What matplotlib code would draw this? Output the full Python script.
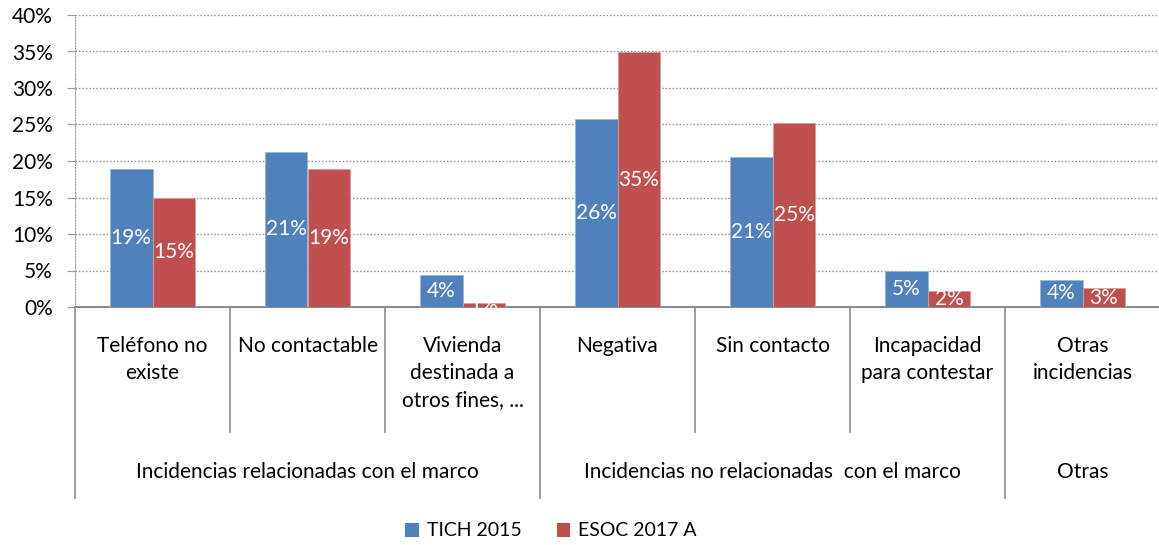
import matplotlib
matplotlib.use("Agg")
import matplotlib.pyplot as plt
from matplotlib.patches import Patch
import matplotlib.transforms as mtransforms

categories = ["Teléfono no\nexiste", "No contactable", "Vivienda\ndestinada a\notros fines, ...",
              "Negativa", "Sin contacto", "Incapacidad\npara contestar", "Otras\nincidencias"]
groups = ["Incidencias relacionadas con el marco", "Incidencias no relacionadas  con el marco", "Otras"]
group_sizes = [3, 3, 1]
series_names = ["TICH 2015", "ESOC 2017 A"]
tich_2015 = [18.9, 21.3, 4.4, 25.8, 20.6, 4.9, 3.7]
esoc_2017 = [15.0, 18.9, 0.6, 34.9, 25.2, 2.2, 2.6]
yticks = [0, 5, 10, 15, 20, 25, 30, 35, 40]

BLUE = "#4F81BD"
RED = "#C0504D"
GRAY = "#8C8C8C"
FONT = "Lato"
FS = 15

plt.rcParams['font.family'] = [FONT, 'DejaVu Sans']

fig = plt.figure(figsize=(11.59, 5.45), dpi=100)
ax = fig.add_axes([75/1159, 1-307/545, (1160-75)/1159, (307-15)/545])

n = len(categories)
xs = [i + 0.5 for i in range(n)]
bw = 0.277
b1 = ax.bar([x - bw/2 for x in xs], tich_2015, width=bw, color=BLUE, edgecolor="#9ab6d8", linewidth=0.6, zorder=3)
b2 = ax.bar([x + bw/2 for x in xs], esoc_2017, width=bw, color=RED, edgecolor="#dc9a98", linewidth=0.6, zorder=3)

for bars, vals in ((b1, tich_2015), (b2, esoc_2017)):
    for rect, v in zip(bars, vals):
        ax.text(rect.get_x() + rect.get_width()/2, v/2, f"{int(round(v))}%",
                ha="center", va="center", color="white", fontsize=FS, zorder=4)

ax.set_xlim(0, n)
ax.set_ylim(0, 40)
ax.set_yticks(yticks)
ax.set_yticklabels([f"{t}%" for t in yticks], fontsize=FS)
ax.yaxis.grid(True, linestyle=(0, (1, 1.5)), color="#8a8a8a", linewidth=1, zorder=0)
ax.tick_params(axis="y", length=6, color="#999999", pad=10, labelcolor="black")
ax.set_xticks([])
for s in ("top", "right"):
    ax.spines[s].set_visible(False)
ax.spines["left"].set_linestyle((0, (1, 1.5)))
ax.spines["left"].set_color("#999999")
ax.spines["bottom"].set_color(GRAY)
ax.spines["bottom"].set_linewidth(1.5)

trans = mtransforms.blended_transform_factory(ax.transData, ax.transAxes)
inner_len = -(432-307)/292
outer_len = -(498-307)/292
group_bounds = [0]
for g in group_sizes:
    group_bounds.append(group_bounds[-1] + g)
for i in range(n):
    bottom = outer_len if i in group_bounds else inner_len
    ax.plot([i, i], [0, bottom], transform=trans, color=GRAY, linewidth=1.2, clip_on=False)

cat_top = -(336-307)/292
for x, c in zip(xs, categories):
    ax.text(x, cat_top, c, transform=trans, ha="center", va="top", fontsize=FS, linespacing=1.45)

grp_y = -(472-307)/292
for gi, g in enumerate(groups):
    center = (group_bounds[gi] + group_bounds[gi+1]) / 2
    ax.text(center, grp_y, g, transform=trans, ha="center", va="center", fontsize=FS)

handles = [Patch(facecolor=BLUE), Patch(facecolor=RED)]
fig.legend(handles, series_names, loc="center", bbox_to_anchor=(551/1159, 1-531/545),
           ncol=2, frameon=False, fontsize=14, handlelength=0.7, handleheight=0.7,
           handletextpad=0.4, columnspacing=1.8)

fig.savefig("out.png", dpi=100)
